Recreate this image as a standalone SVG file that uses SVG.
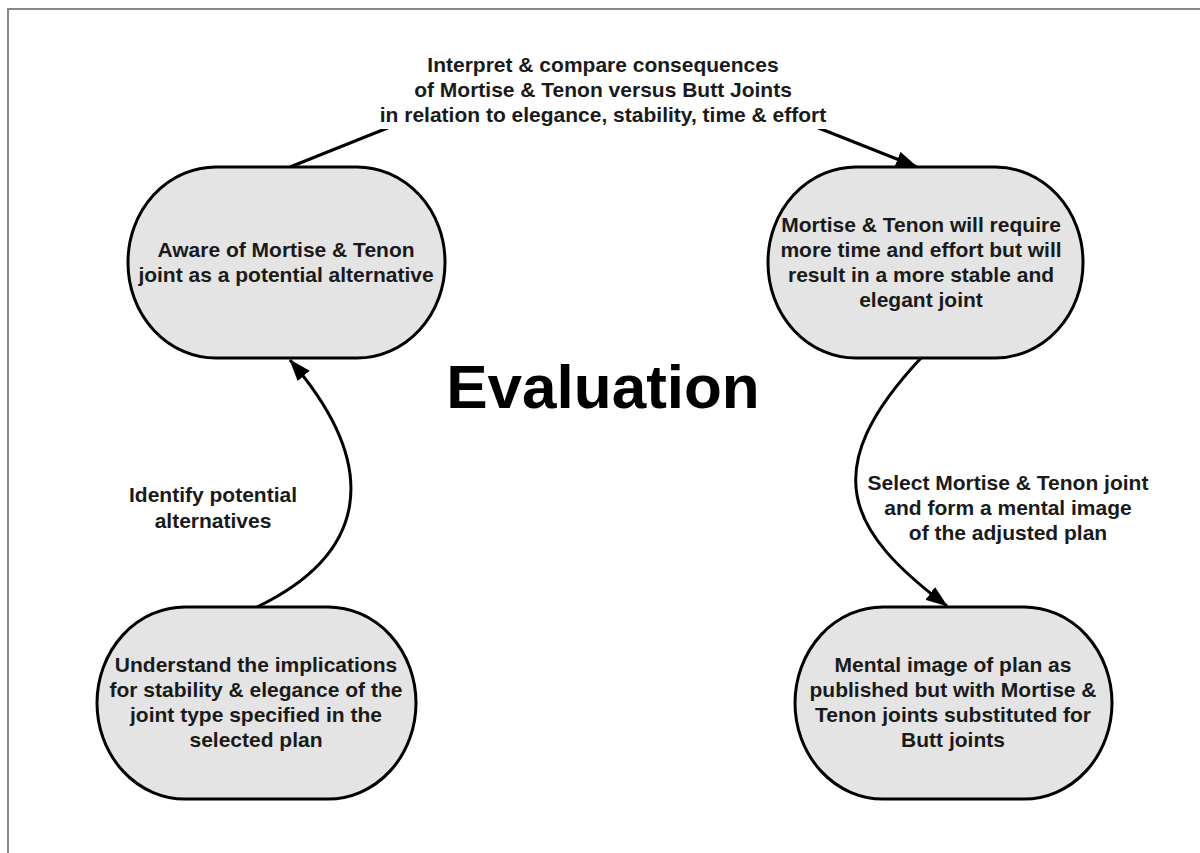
<svg xmlns="http://www.w3.org/2000/svg" width="1200" height="853" viewBox="0 0 1200 853">
  <defs>
    <marker id="arrow" viewBox="0 0 22 16" refX="21" refY="8" markerWidth="22" markerHeight="16" markerUnits="userSpaceOnUse" orient="auto">
      <path d="M0,0 L22,8 L0,16 Z" fill="#000"/>
    </marker>
    <style>
      .node { fill: #e4e4e4; stroke: #000; stroke-width: 3; }
      .txt { font-family: "Liberation Sans", Arial, sans-serif; font-weight: bold; font-size: 21px; fill: #1a1a1a; text-anchor: middle; }
      .edge { fill: none; stroke: #000; stroke-width: 3; }
      .title { font-family: "Liberation Sans", Arial, sans-serif; font-weight: bold; font-size: 62px; fill: #000; text-anchor: middle; }
    </style>
  </defs>

  <rect x="0" y="0" width="1200" height="853" fill="#fff"/>
  <!-- frame (only the left and top edges fall inside the page) -->
  <path d="M8,853 L8,9 L1200,9" fill="none" stroke="#888" stroke-width="2"/>

  <g id="connectors">
    <!-- upper connector runs behind its label box -->
    <path class="edge" d="M290,167 L400,123 L806,123 L917,167" stroke-linejoin="round" marker-end="url(#arrow)"/>
    <path class="edge" d="M257,607 C365,555 385,470 290,360" marker-end="url(#arrow)"/>
    <path class="edge" d="M921,358 C816,470 847,531 947,606" marker-end="url(#arrow)"/>
  </g>

  <g id="label-compare">
    <rect x="380" y="50" width="450" height="79" fill="#fff"/>
    <text class="txt" x="603" y="72">Interpret &amp; compare consequences</text>
    <text class="txt" x="603" y="97">of Mortise &amp; Tenon versus Butt Joints</text>
    <text class="txt" x="603" y="122">in relation to elegance, stability, time &amp; effort</text>
  </g>

  <g id="label-identify">
    <text class="txt" x="213" y="502">Identify potential</text>
    <text class="txt" x="213" y="528">alternatives</text>
  </g>

  <g id="label-select">
    <text class="txt" x="1008" y="490">Select Mortise &amp; Tenon joint</text>
    <text class="txt" x="1008" y="515">and form a mental image</text>
    <text class="txt" x="1008" y="540">of the adjusted plan</text>
  </g>

  <g id="node-aware">
    <rect class="node" x="128" y="167" width="317" height="191" rx="88" ry="95"/>
    <text class="txt" x="286" y="257">Aware of Mortise &amp; Tenon</text>
    <text class="txt" x="286" y="282">joint as a potential alternative</text>
  </g>

  <g id="node-consequence">
    <rect class="node" x="768" y="167" width="315" height="191" rx="88" ry="95"/>
    <text class="txt" x="921" y="232">Mortise &amp; Tenon will require</text>
    <text class="txt" x="921" y="257">more time and effort but will</text>
    <text class="txt" x="921" y="282">result in a more stable and</text>
    <text class="txt" x="921" y="307">elegant joint</text>
  </g>

  <g id="node-understand">
    <rect class="node" x="97" y="607" width="319" height="192" rx="88" ry="96"/>
    <text class="txt" x="256" y="672">Understand the implications</text>
    <text class="txt" x="256" y="697">for stability &amp; elegance of the</text>
    <text class="txt" x="256" y="722">joint type specified in the</text>
    <text class="txt" x="256" y="747">selected plan</text>
  </g>

  <g id="node-mental-image">
    <rect class="node" x="795" y="607" width="317" height="192" rx="88" ry="96"/>
    <text class="txt" x="953" y="672">Mental image of plan as</text>
    <text class="txt" x="953" y="697">published but with Mortise &amp;</text>
    <text class="txt" x="953" y="722">Tenon joints substituted for</text>
    <text class="txt" x="953" y="747">Butt joints</text>
  </g>

  <text class="title" x="603" y="408">Evaluation</text>
</svg>
